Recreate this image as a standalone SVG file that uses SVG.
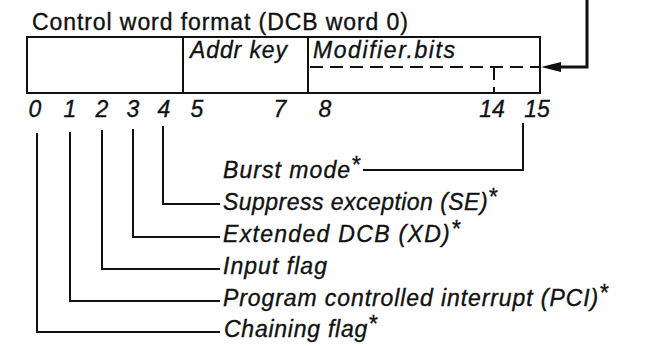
<svg xmlns="http://www.w3.org/2000/svg" width="651" height="346" viewBox="0 0 651 346">
<defs>
<style>
.t{font-family:"Liberation Sans",Arial,sans-serif;font-size:23px;fill:#111;stroke:#111;stroke-width:0.35}
.i{font-style:italic}
.ln{fill:none;stroke:#111;stroke-width:2}
.ds{fill:none;stroke:#111;stroke-width:2;stroke-dasharray:13 7}
.ar{fill:none;stroke:#111;stroke-width:3}
</style>
<marker id="ah" viewBox="0 0 20 10" refX="0" refY="5" markerWidth="20" markerHeight="10" markerUnits="userSpaceOnUse" orient="auto">
<path d="M0,0 L20,5 L0,10 Z" fill="#111"/>
</marker>
</defs>
<rect width="651" height="346" fill="#fff"/>
<g id="title">
<text class="t" x="32" y="30" textLength="376" lengthAdjust="spacing">Control word format (DCB word 0)</text>
</g>
<g id="control-word">
<rect class="ln" x="27" y="37" width="513" height="56"/>
<line class="ln" x1="183" y1="37" x2="183" y2="93"/>
<line class="ln" x1="308" y1="37" x2="308" y2="93"/>
<text class="t i" x="190" y="58" textLength="97" lengthAdjust="spacing">Addr key</text>
<text class="t i" x="313" y="58" textLength="142" lengthAdjust="spacing">Modifier.bits</text>
<path class="ds" d="M310,67 H540"/>
<path class="ds" d="M494,67 V93"/>
</g>
<g id="bit-numbers" class="t i" text-anchor="middle">
<text x="35" y="117">0</text>
<text x="70" y="117">1</text>
<text x="102" y="117">2</text>
<text x="133" y="117">3</text>
<text x="164" y="117">4</text>
<text x="197" y="117">5</text>
<text x="280" y="117">7</text>
<text x="325" y="117">8</text>
<text x="492" y="117">14</text>
<text x="537" y="117">15</text>
</g>
<g id="label-burst"><text class="t i" x="223" y="178" textLength="137" lengthAdjust="spacing">Burst mode<tspan dy="-5">*</tspan></text></g>
<g id="label-se"><text class="t i" x="223" y="210" textLength="274" lengthAdjust="spacing">Suppress exception (SE)<tspan dy="-5">*</tspan></text></g>
<g id="label-xd"><text class="t i" x="223" y="242" textLength="237" lengthAdjust="spacing">Extended DCB (XD)<tspan dy="-5">*</tspan></text></g>
<g id="label-input"><text class="t i" x="223" y="274" textLength="104" lengthAdjust="spacing">Input flag</text></g>
<g id="label-pci"><text class="t i" x="223" y="306" textLength="385" lengthAdjust="spacing">Program controlled interrupt (PCI)<tspan dy="-5">*</tspan></text></g>
<g id="label-chain"><text class="t i" x="224" y="337" textLength="153" lengthAdjust="spacing">Chaining flag<tspan dy="-5">*</tspan></text></g>
<g id="connectors">
<path class="ln" d="M37,133 V332 H220"/>
<path class="ln" d="M70,132 V301 H220"/>
<path class="ln" d="M102,130 V269 H220"/>
<path class="ln" d="M133,129 V237 H220"/>
<path class="ln" d="M163,126 V204 H220"/>
<path class="ln" d="M523,123 V170 H363"/>
<path class="ar" d="M587,0 V67 H561" marker-end="url(#ah)"/>
</g>
</svg>
